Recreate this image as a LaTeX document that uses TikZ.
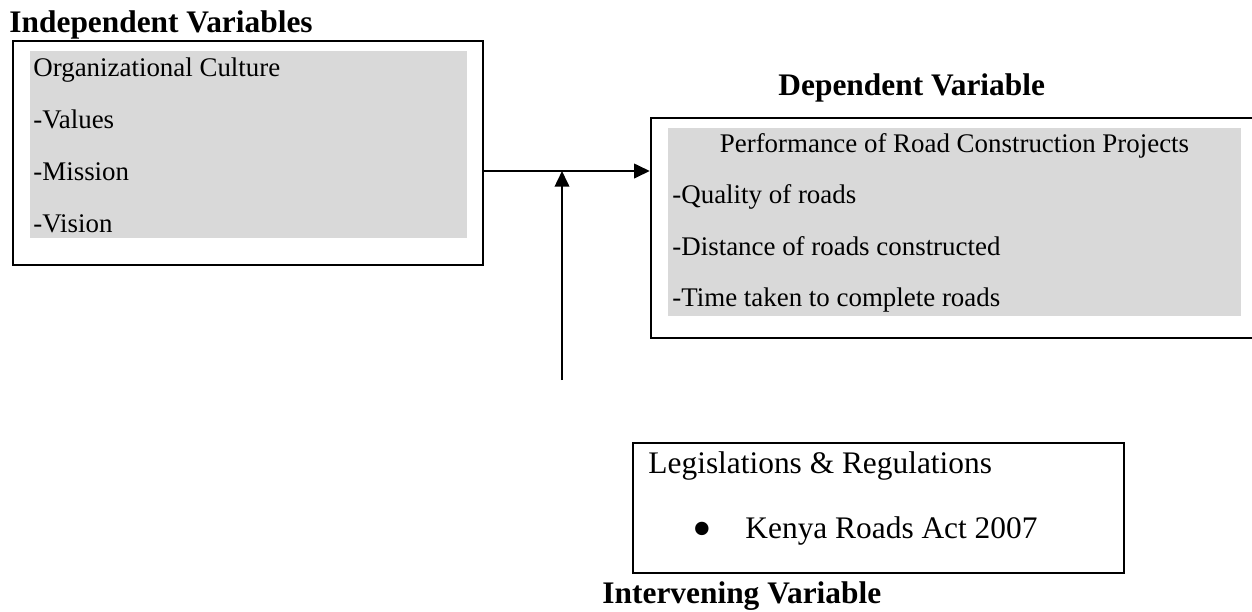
\documentclass[tikz,border=0pt]{standalone}
\usepackage{fontspec}
\setmainfont{Liberation Serif}
\usepackage{xcolor}
\usepackage{tikz}
\usetikzlibrary{arrows.meta, fit}

\definecolor{boxgray}{HTML}{D9D9D9}

\begin{document}
\begin{tikzpicture}[x=0.446pt,y=-0.446pt,
    outerbox/.style={draw,line width=1.1pt,inner sep=0pt},
    shadebox/.style={fill=boxgray,inner sep=0pt},
    txt/.style={font=\fontsize{12}{14}\selectfont,anchor=base west,inner sep=0pt},
    bigtxt/.style={font=\fontsize{14}{16}\selectfont,anchor=base west,inner sep=0pt},
    ttl/.style={font=\fontsize{14}{16}\selectfont\bfseries,anchor=base west,inner sep=0pt},
    link/.style={line width=0.9pt,-{Triangle[length=7pt,width=6.5pt]}}]
    \clip (0,0) rectangle (1252,611);

    % Independent variables box
    \node[ttl] (indeptitle) at (9,32) {Independent Variables};
    \node[outerbox,fit={(13,41) (483,265)}] (indep) {};
    \node[shadebox,fit={(30,51) (467,238)}] (indepfill) {};
    \node[txt] (culture) at (33,76) {Organizational Culture};
    \node[txt] (values) at (33,128) {-Values};
    \node[txt] (mission) at (33,180) {-Mission};
    \node[txt] (vision) at (33,232) {-Vision};

    % Dependent variable box (runs off the right edge)
    \node[ttl] (deptitle) at (778,95) {Dependent Variable};
    \node[outerbox,fit={(651,118) (1256,338)}] (dep) {};
    \node[shadebox,fit={(668,128) (1241,316)}] (depfill) {};
    \node[txt,anchor=base] (perf) at (954.5,152) {Performance of Road Construction Projects};
    \node[txt] (quality) at (672,203) {-Quality of roads};
    \node[txt] (distance) at (672,255) {-Distance of roads constructed};
    \node[txt] (time) at (672,306) {-Time taken to complete roads};

    % Intervening variable box
    \node[outerbox,fit={(633,443) (1124,573)}] (interv) {};
    \node[bigtxt] (legis) at (648,473) {Legislations \& Regulations};
    \node[bigtxt,anchor=base,font=\fontsize{25}{25}\selectfont] (dot) at (702,547) {\textbullet};
    \node[bigtxt] (kenya) at (745,538) {Kenya Roads Act 2007};
    \node[ttl] (intervtitle) at (602,603) {Intervening Variable};

    % Arrows
    \coordinate (join) at (562,171);
    \coordinate (foot) at (562,380);
    \draw[link] (indep.east |- join) -- (dep.west |- join);
    \draw[link] (foot) -- (join);
\end{tikzpicture}
\end{document}
